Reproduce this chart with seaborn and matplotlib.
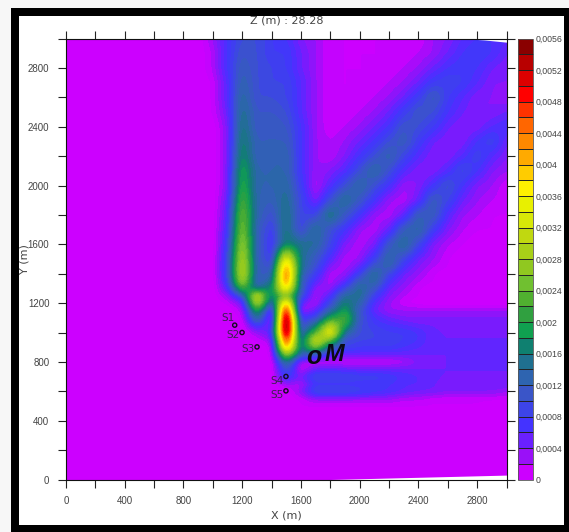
import numpy as np
import seaborn as sns
import matplotlib
matplotlib.use("Agg")
import matplotlib.pyplot as plt
from matplotlib.colors import ListedColormap, BoundaryNorm, Normalize, LinearSegmentedColormap
from matplotlib.cm import ScalarMappable
from matplotlib.patches import Rectangle

# field values in units of 1e-4, columns follow x_cols
x_cols = [0, 800, 900, 1000, 1100, 1200, 1300, 1400, 1500, 1600, 1700, 1800, 1900, 2000, 2100, 2200, 2300, 2400, 2500, 2600, 2700, 2800, 2900, 3000]
y3000 = [0,0,0,3,7,10,10,8,7,4,3,1,1,1,1,1,1,1,3,4,6,7,7,6]
y2900 = [0,0,0,2,7,11,10,8,8,5,3,1,1,1,1,1,1,2,3,5,7,8,7,5]
y2800 = [0,0,0,2,7,12,10,9,8,5,3,1,1,1,1,1,2,3,5,7,8,7,5,4]
y2700 = [0,0,0,1,6,13,10,9,9,6,3,1,1,1,1,2,3,5,8,9,8,6,4,4]
y2600 = [0,0,0,1,6,14,10,10,9,6,3,1,1,1,2,3,5,8,12,8,6,4,4,3]
y2500 = [0,0,0,1,5,15,11,11,10,6,3,1,1,2,3,5,8,11,10,7,5,4,4,5]
y2400 = [0,0,0,0,4,16,11,12,11,7,3,1,2,3,5,7,11,10,8,5,4,4,6,7]
y2300 = [0,0,0,0,4,17,12,12,12,7,3,2,3,5,7,10,12,8,5,4,4,7,9,5]
y2200 = [0,0,0,0,4,18,12,13,13,7,3,2,4,7,10,13,9,6,4,4,6,9,6,4]
y2100 = [0,0,0,0,4,20,13,13,13,7,3,4,6,10,14,10,6,4,4,6,10,7,4,3]
y2000 = [0,0,0,0,4,21,13,13,14,8,2,6,10,14,10,7,3,4,7,11,7,4,3,1]
y1900 = [0,0,0,0,5,23,13,12,15,9,4,10,15,11,7,3,2,5,12,9,5,3,2,1]
y1800 = [0,0,0,0,6,25,13,10,16,9,9,16,11,7,3,2,5,12,12,6,3,2,1,1]
y1700 = [0,0,0,0,7,26,12,8,16,9,15,10,7,3,2,5,12,14,8,4,2,1,1,0]
y1600 = [0,0,0,0,8,28,12,7,17,15,14,9,4,2,4,11,15,9,4,2,1,0,0,0]
y1500 = [0,0,0,0,9,30,12,8,36,15,11,6,2,3,8,14,9,5,3,1,0,0,0,0]
y1450 = [0,0,0,0,9,31,12,10,43,15,10,4,2,5,11,13,7,4,2,1,0,0,0,0]
y1400 = [0,0,0,0,9,31,12,12,46,13,8,2,3,8,15,9,5,3,1,0,0,0,0,0]
y1350 = [0,0,0,0,8,29,11,14,45,12,6,2,5,12,14,7,4,2,1,0,0,0,0,0]
y1300 = [0,0,0,0,6,22,14,18,38,12,3,3,9,15,11,5,3,1,0,0,0,0,0,0]
y1250 = [0,0,0,0,3,10,33,16,26,10,2,6,14,15,8,4,2,1,0,0,0,0,0,0]
y1200 = [0,0,0,0,1,4,30,11,40,5,2,9,17,13,6,3,1,0,0,0,0,0,0,0]
y1150 = [0,0,0,0,0,2,20,4,52,2,5,13,19,11,5,3,3,3,3,3,3,3,3,3]
y1100 = [0,0,0,0,0,1,15,2,58,7,9,19,23,11,7,5,4,4,4,4,4,4,4,4]
y1050 = [0,0,0,0,0,0,8,4,60,9,15,30,20,10,8,7,6,5,5,5,5,5,5,5]
y1000 = [0,0,0,0,0,0,3,6,58,11,22,37,14,10,9,8,8,7,5,5,5,5,5,5]
y950 = [0,0,0,0,0,0,1,3,50,13,33,24,10,9,9,9,8,7,5,5,5,5,5,5]
y900 = [0,0,0,0,0,0,0,1,42,15,26,12,9,8,8,8,7,6,5,5,5,5,5,5]
y850 = [0,0,0,0,0,0,0,1,27,12,10,6,5,5,5,5,5,5,5,5,5,5,5,5]
y800 = [0,0,0,0,0,0,0,0,15,2,1,1,1,1,1,1,2,4,5,5,5,5,5,5]
y750 = [0,0,0,0,0,0,0,0,11,1,5,6,5,5,5,5,5,5,5,5,5,5,5,5]
y700 = [0,0,0,0,0,0,0,0,8,5,10,10,10,9,9,8,7,6,5,5,5,5,5,5]
y650 = [0,0,0,0,0,0,0,0,3,2,7,7,7,7,7,7,6,6,5,5,5,5,5,5]
y600 = [0,0,0,0,0,0,0,0,0,4,10,10,10,9,8,7,6,5,5,4,4,4,4,3]
y550 = [0,0,0,0,0,0,0,0,0,1,3,3,3,3,3,3,2,2,1,1,1,1,1,1]
y500 = [0,0,0,0,0,0,0,0,0,1,1,1,1,1,1,1,1,1,1,1,1,1,0,0]
y450 = [0] * 24
y0 = [0] * 24

y_rows = [3000, 2900, 2800, 2700, 2600, 2500, 2400, 2300, 2200, 2100, 2000, 1900, 1800, 1700, 1600,
          1500, 1450, 1400, 1350, 1300, 1250, 1200, 1150, 1100, 1050, 1000, 950, 900, 850, 800,
          750, 700, 650, 600, 550, 500, 450, 0]
field_rows = [y3000, y2900, y2800, y2700, y2600, y2500, y2400, y2300, y2200, y2100, y2000, y1900, y1800, y1700, y1600,
              y1500, y1450, y1400, y1350, y1300, y1250, y1200, y1150, y1100, y1050, y1000, y950, y900, y850, y800,
              y750, y700, y650, y600, y550, y500, y450, y0]

band_colors = ["#cc00ff", "#9a10f8", "#6a20ff", "#4433ff", "#3d44e8", "#3a55c8", "#2e64b0", "#1f7090",
               "#0f8070", "#10a050", "#30a040", "#50b030", "#70c030", "#90c820", "#a8d018", "#c0d810",
               "#d8e808", "#e8f000", "#fff000", "#ffcc00", "#ffaa00", "#ff8800", "#ff6600", "#ff3300",
               "#ff0000", "#dd0000", "#b80000", "#8a0000"]
bar_ticks = [0, 4, 8, 12, 16, 20, 24, 28, 32, 36, 40, 44, 48, 52, 56]
bar_labels = ["0", "0,0004", "0,0008", "0,0012", "0,0016", "0,002", "0,0024", "0,0028",
              "0,0032", "0,0036", "0,004", "0,0044", "0,0048", "0,0052", "0,0056"]
sensor_names = ["S1", "S2", "S3", "S4", "S5"]
sensor_x = [1149, 1199, 1301, 1498, 1498]
sensor_y = [1050, 1000, 902, 701, 603]
label_x = [1104, 1138, 1240, 1437, 1437]
label_y = [1102, 986, 891, 671, 572]
edge_bottom_x = [1800, 2400, 3000]
edge_bottom_y = [0, 15, 30]
edge_top_x = [2700, 2850, 3000]
edge_top_y = [3000, 2990, 2975]

sns.set_theme(style="ticks")
plt.rcParams["font.family"] = ["Liberation Sans", "DejaVu Sans"]
W, H = 569, 532
fig = plt.figure(figsize=(W / 100, H / 100), dpi=100, facecolor="#f7f7f7")


def box(l, t, r, b):
    return [l / W, 1 - b / H, (r - l) / W, (b - t) / H]


fig.patches.append(Rectangle((11 / W, 0), 558 / W, 1 - 8 / H, transform=fig.transFigure, fc="black", ec="none", zorder=-3))
fig.patches.append(Rectangle((19 / W, 1 - 525 / H), 545 / W, 509 / H, transform=fig.transFigure, fc="white", ec="none", zorder=-2))

ax = fig.add_axes(box(66, 38.5, 506.5, 479.5), facecolor="none")

# Render the read-off grid as a soft surface, as the source software does
z = np.array(field_rows, dtype=float)[::-1]
ys = np.array(y_rows, dtype=float)[::-1]
fine_x = np.arange(0, 3001, 10.0)
fine_y = np.arange(0, 3001, 10.0)
tmp = np.array([np.interp(fine_x, x_cols, row) for row in z])
fine = np.array([np.interp(fine_y, ys, col) for col in tmp.T]).T
kernel = np.exp(-0.5 * (np.arange(-9, 10) * 10 / 20.0) ** 2)
kernel /= kernel.sum()


def soften(a):
    p = np.pad(a, 9, mode="edge")
    return np.convolve(p, kernel, mode="valid")


fine = np.apply_along_axis(soften, 0, fine)
fine = np.apply_along_axis(soften, 1, fine)

stops = [(0.0, band_colors[0])] + [((2 * i + 1) / 56, c) for i, c in enumerate(band_colors)] + [(1.0, band_colors[-1])]
cmap = LinearSegmentedColormap.from_list("field", stops)
ax.contourf(fine_x, fine_y, fine, levels=np.arange(0, 57, 1), cmap=cmap, norm=Normalize(0, 56), extend="both")
ax.fill_between(edge_bottom_x, 0, edge_bottom_y, color="white", lw=0, zorder=2)
ax.fill_between(edge_top_x, edge_top_y, 3000, color="white", lw=0, zorder=2)
ax.set_xlim(0, 3000)
ax.set_ylim(0, 3000)
ax.set_xticks(np.arange(0, 3001, 400))
ax.set_xticks(np.arange(0, 3001, 200), minor=True)
ax.set_yticks(np.arange(0, 3001, 400))
ax.set_yticks(np.arange(0, 3001, 200), minor=True)
for which in ("major", "minor"):
    ax.tick_params(which=which, direction="out", length=6, width=0.8, color="#222222", top=True, right=True,
                   labelsize=7, labelcolor="#444444", pad=6)
for s in ax.spines.values():
    s.set_linewidth(0.8)
    s.set_color("#111111")
ax.set_xlabel("X (m)", fontsize=8, family="DejaVu Sans", color="#444444", labelpad=3)
ax.set_ylabel("Y (m)", fontsize=8, family="DejaVu Sans", color="#444444")
ax.yaxis.set_label_coords(-0.082, 0.5)
ax.set_title("Z (m) : 28.28", fontsize=8, family="DejaVu Sans", color="#444444", pad=11)

ax.scatter(sensor_x, sensor_y, s=9, facecolors="none", edgecolors="#150a20", linewidths=1, zorder=5)
for name, lx, ly in zip(sensor_names, label_x, label_y):
    ax.text(lx, ly, name, fontsize=7.5, color="#3a2050", ha="center", va="center", family="DejaVu Sans", zorder=5)
ax.text(1689, 835, "o", fontsize=18, fontweight="bold", style="italic", color="#0a0a14", ha="center", va="center", zorder=5)
ax.text(1825, 850, "M", fontsize=17, fontweight="bold", style="italic", color="#0a0a14", ha="center", va="center", zorder=5)

cax = fig.add_axes(box(517.5, 38.5, 533, 479.5))
edges = np.arange(0, 57, 2)
sm = ScalarMappable(norm=BoundaryNorm(edges, len(band_colors)), cmap=ListedColormap(band_colors))
cb = fig.colorbar(sm, cax=cax, drawedges=True, spacing="proportional")
cb.set_ticks(bar_ticks)
cb.set_ticklabels(bar_labels)
cb.ax.minorticks_off()
cb.ax.tick_params(length=0, labelsize=6.3, labelcolor="#444444", pad=2)
cb.dividers.set_color("#222222")
cb.dividers.set_linewidth(0.7)
cb.outline.set_edgecolor("#555555")
cb.outline.set_linewidth(0.6)

fig.savefig("out.png", dpi=100, facecolor=fig.get_facecolor())
